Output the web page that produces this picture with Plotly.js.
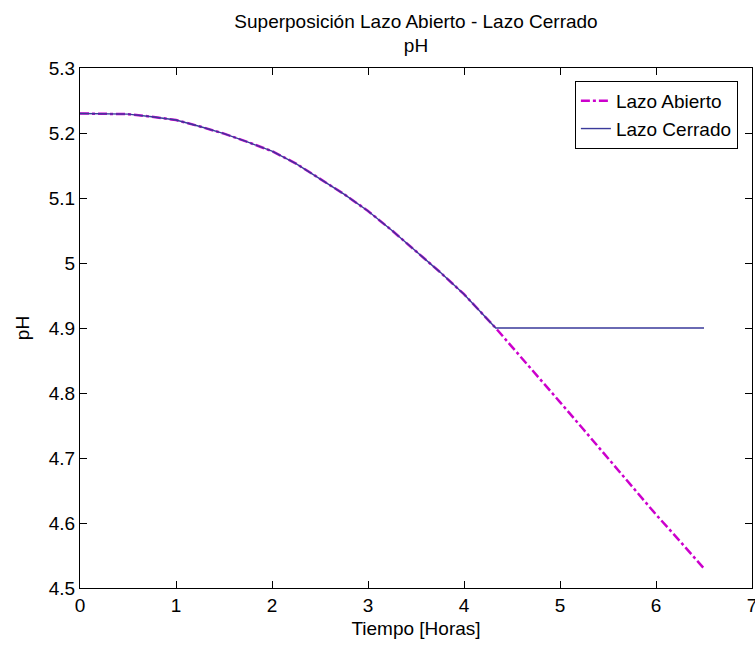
<!DOCTYPE html>
<html>
<head>
<meta charset="utf-8">
<script src="https://cdn.plot.ly/plotly-3.0.1.min.js"></script>
<style>html,body{margin:0;padding:0;background:#fff;}#chart{width:755px;height:646px;}</style>
</head>
<body>
<div id="chart"></div>
<script>
// Tiempo [Horas]
const tiempoAbierto = [0, 0.25, 0.5, 0.75, 1.0, 1.25, 1.5, 1.75, 2.0, 2.25, 2.5, 2.75, 3.0, 3.25, 3.5, 3.75, 4.0, 4.25, 4.33, 4.5, 4.75, 5.0, 5.25, 5.5, 5.75, 6.0, 6.25, 6.5];
const phAbierto = [5.230, 5.230, 5.229, 5.225, 5.220, 5.210, 5.199, 5.186, 5.172, 5.153, 5.130, 5.106, 5.080, 5.050, 5.018, 4.986, 4.952, 4.913, 4.900, 4.871, 4.829, 4.786, 4.743, 4.700, 4.657, 4.613, 4.572, 4.530];
const tiempoCerrado = [0, 0.25, 0.5, 0.75, 1.0, 1.25, 1.5, 1.75, 2.0, 2.25, 2.5, 2.75, 3.0, 3.25, 3.5, 3.75, 4.0, 4.25, 4.33, 5.0, 5.5, 6.0, 6.5];
const phCerrado = [5.230, 5.230, 5.229, 5.225, 5.220, 5.210, 5.199, 5.186, 5.172, 5.153, 5.130, 5.106, 5.080, 5.050, 5.018, 4.986, 4.952, 4.913, 4.900, 4.900, 4.900, 4.900, 4.900];
const xTicks = [0, 1, 2, 3, 4, 5, 6, 7];
const yTicks = [4.5, 4.6, 4.7, 4.8, 4.9, 5, 5.1, 5.2, 5.3];
const yTickText = ['4.5', '4.6', '4.7', '4.8', '4.9', '5', '5.1', '5.2', '5.3'];

const FONT = 'Liberation Sans, Arial, sans-serif';

const traces = [
  {x: tiempoAbierto, y: phAbierto, type: 'scatter', mode: 'lines', name: 'Lazo Abierto',
   line: {color: '#cc00cc', width: 2.5, dash: 'dashdot'}},
  {x: tiempoCerrado, y: phCerrado, type: 'scatter', mode: 'lines', name: 'Lazo Cerrado',
   line: {color: '#3a3a9a', width: 1.4}}
];

const axisCommon = {
  showline: true, linecolor: '#000', linewidth: 1, mirror: 'ticks',
  ticks: 'inside', ticklen: 7, tickcolor: '#000', showgrid: false, zeroline: false,
  tickfont: {family: FONT, size: 19, color: '#000'}
};

const layout = {
  width: 755, height: 646,
  paper_bgcolor: '#fff', plot_bgcolor: '#fff',
  margin: {l: 80, r: 3, t: 68, b: 58},
  title: {text: 'Superposición Lazo Abierto - Lazo Cerrado<br>pH', x: 0.551, xref: 'container', xanchor: 'center',
          y: 0.957, yref: 'container', yanchor: 'top',
          font: {family: FONT, size: 19, color: '#000'}},
  xaxis: Object.assign({}, axisCommon, {range: [0, 7], tickvals: xTicks, ticktext: xTicks.map(String),
          ticklabeloverflow: 'allow',
          title: {text: 'Tiempo [Horas]', font: {family: FONT, size: 19, color: '#000'}, standoff: 6}}),
  yaxis: Object.assign({}, axisCommon, {range: [4.5, 5.3], tickvals: yTicks, ticktext: yTickText,
          title: {text: 'pH', font: {family: FONT, size: 19, color: '#000'}, standoff: 14}}),
  legend: {x: 0.979, xanchor: 'right', y: 0.975, yanchor: 'top', bgcolor: '#fff',
           bordercolor: '#000', borderwidth: 1, font: {family: FONT, size: 19, color: '#000'}},
  showlegend: true
};

Plotly.newPlot('chart', traces, layout, {staticPlot: true, displayModeBar: false});
</script>
</body>
</html>
